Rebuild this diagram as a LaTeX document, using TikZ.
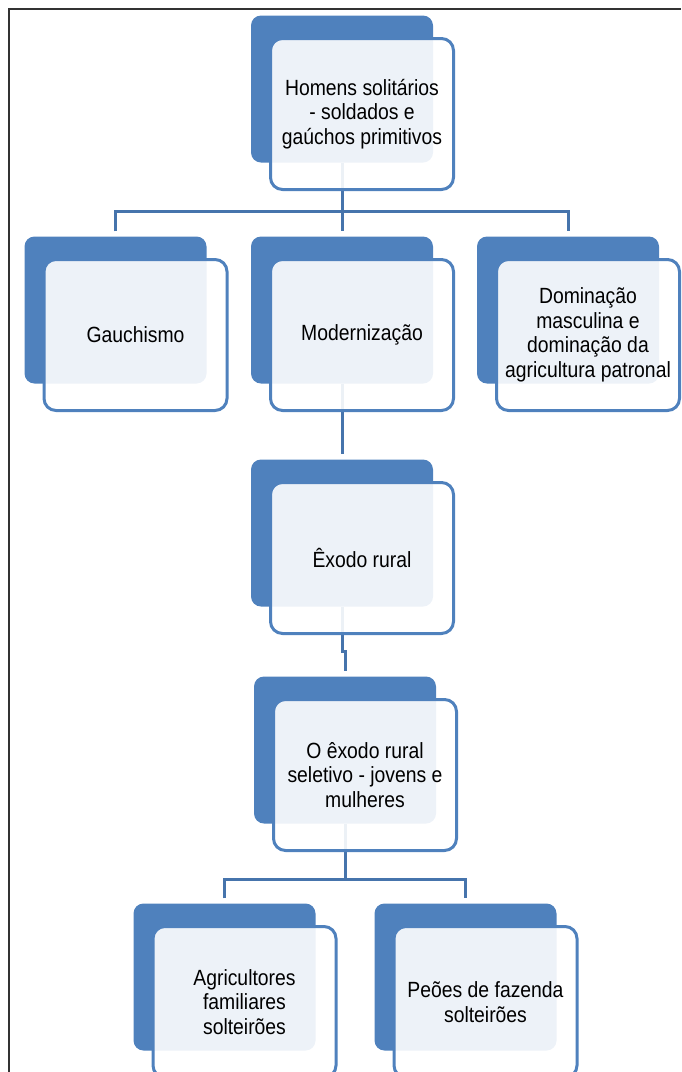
\documentclass[tikz,border=0pt]{standalone}
\usepackage{fontspec}
\setmainfont{Liberation Sans}[FakeStretch=0.88]
\definecolor{azul}{RGB}{79,129,189}
\definecolor{linha}{RGB}{70,116,172}
\tikzset{
  fundo/.style={rectangle, rounded corners=10pt, fill=azul, minimum width=182pt, minimum height=147pt, inner sep=0pt},
  frente/.style={rectangle, rounded corners=12pt, draw=azul, line width=3pt, fill=white, fill opacity=0.9, text opacity=1,
    minimum width=183pt, minimum height=151pt, align=center, font=\fontsize{22}{24.5}\selectfont},
  liga/.style={draw=linha, line width=3pt}
}
\begin{document}
\begin{tikzpicture}[x=1pt,y=-1pt]
\useasboundingbox (0,0) rectangle (681,1072);
\clip (0,0) rectangle (681,1072);
% moldura
\draw[line width=2pt, black!80] (9,1072) -- (9,9) -- (681,9);
% caixas de fundo
\node[fundo] (topo-f) at (342,89) {};
\node[fundo] (gauch-f) at (115.5,310) {};
\node[fundo] (modern-f) at (342,310) {};
\node[fundo] (domin-f) at (568,310) {};
\node[fundo] (exodo-f) at (342,533) {};
\node[fundo] (seletivo-f) at (345,750) {};
\node[fundo] (agric-f) at (224.5,977) {};
\node[fundo] (peoes-f) at (465.5,977) {};
% ligacoes
\coordinate (b1) at (342,211);
\coordinate (b2) at (345,879);
\draw[liga] (topo-f.south) -- (b1);
\draw[liga] ([yshift=5pt]gauch-f.north) |- (b1) -| ([yshift=5pt]domin-f.north);
\draw[liga] (b1) -- ([yshift=5pt]modern-f.north);
\draw[liga] (modern-f.south) -- ([yshift=5pt]exodo-f.north);
\draw[liga] (exodo-f.south) -- ++(0,45) -| ([yshift=5pt]seletivo-f.north);
\draw[liga] (seletivo-f.south) -- (b2);
\draw[liga] ([yshift=5pt]agric-f.north) |- (b2) -| ([yshift=5pt]peoes-f.north);
% caixas da frente
\node[frente] (topo) at (362,114) {Homens solitários\\ - soldados e\\ gaúchos primitivos};
\node[frente] (gauch) at (135.5,335) {Gauchismo};
\node[frente] (modern) at (362,335) {Modernização};
\node[frente] (domin) at (588,335) {Dominação\\ masculina e\\ dominação da\\ agricultura patronal};
\node[frente] (exodo) at (362,558) {Êxodo rural};
\node[frente] (seletivo) at (365,775) {O êxodo rural\\ seletivo - jovens e\\ mulheres};
\node[frente] (agric) at (244.5,1002) {Agricultores\\ familiares\\ solteirões};
\node[frente] (peoes) at (485.5,1002) {Peões de fazenda\\ solteirões};
\end{tikzpicture}
\end{document}
